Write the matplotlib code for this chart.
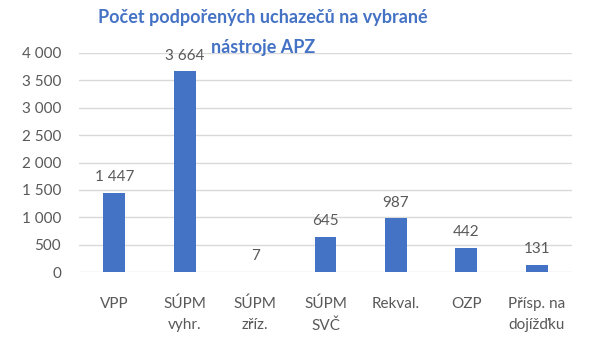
import matplotlib.pyplot as plt

# Data
categories = ['VPP', 'SÚPM\nvyhr.', 'SÚPM\nzříz.', 'SÚPM\nSVČ', 'Rekval.', 'OZP', 'Přísp. na\ndojížďku']
values = [1447, 3664, 7, 645, 987, 442, 131]
labels = ['1 447', '3 664', '7', '645', '987', '442', '131']
yticks = [0, 500, 1000, 1500, 2000, 2500, 3000, 3500, 4000]
ytick_labels = ['0', '500', '1 000', '1 500', '2 000', '2 500', '3 000', '3 500', '4 000']
title_lines = ['Počet podpořených uchazečů na vybrané', 'nástroje APZ']

plt.rcParams['font.family'] = ['Lato', 'DejaVu Sans']
grey = '#595959'
blue = '#4472C4'

fig = plt.figure(figsize=(6, 3.41), dpi=100)
ax = fig.add_axes([79 / 600, 1 - 272 / 341, (572 - 79) / 600, (272 - 53) / 341])

x = range(len(categories))
ax.bar(x, values, width=0.31, color=blue, zorder=3)

# Data labels above bars
for i, v in enumerate(values):
    ax.annotate(labels[i], (i, v), xytext=(0, 6), textcoords='offset points',
                ha='center', va='bottom', fontsize=11, color=grey)

ax.set_xlim(-0.5, len(categories) - 0.5)
ax.set_ylim(0, 4000)
ax.set_yticks(yticks)
ax.set_yticklabels(ytick_labels, fontsize=11, color=grey)
ax.set_xticks(list(x))
ax.set_xticklabels(categories, fontsize=11, color=grey, linespacing=1.6)

ax.grid(axis='y', color='#d9d9d9', linewidth=1, zorder=0)
ax.tick_params(axis='both', length=0)
ax.tick_params(axis='x', pad=18)
ax.tick_params(axis='y', pad=13)
for s in ax.spines.values():
    s.set_visible(False)

# Title, two lines drawn separately
for line, ypix in zip(title_lines, [18, 47]):
    fig.text(263 / 600, 1 - ypix / 341, line, ha='center', va='center',
             fontsize=13, fontweight='bold', color=blue)

fig.savefig('out.png', dpi=100)
